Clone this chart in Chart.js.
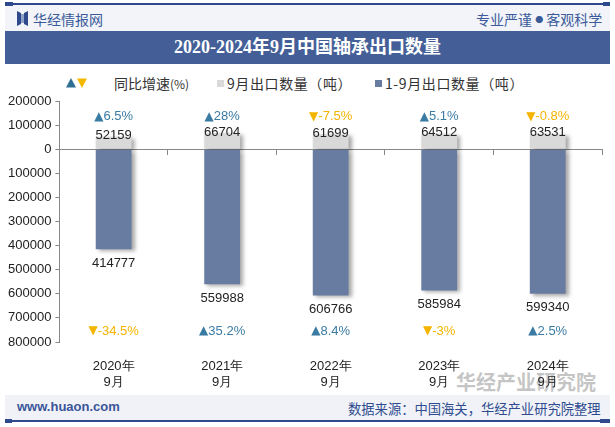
<!DOCTYPE html>
<html>
<head>
<meta charset="utf-8">
<script src="https://cdn.jsdelivr.net/npm/chart.js@4.4.1/dist/chart.umd.min.js"></script>
<style>
  body { margin: 0; background: #fff; font-family: Arial, "Liberation Sans", "Noto Sans CJK SC", sans-serif; }
  #wrap { position: relative; width: 615px; height: 427px; overflow: hidden; }
  #chartBox { position: absolute; left: 0; top: 0; width: 615px; height: 427px; }
  .abs { position: absolute; white-space: nowrap; }
  #topLine { left: 5px; top: 3px; width: 605px; height: 2px; background: #2f4a8c; }
  #header { left: 5px; top: 5px; width: 605px; height: 26px; background: #f2f4f9; }
  #title { left: 5px; top: 31px; width: 605px; height: 33px; background: #445f98; color: #fff;
           font: bold 18px "Liberation Serif", "Noto Sans CJK SC", serif; text-align: center; line-height: 33px; }
  #footer { left: 5px; top: 395px; width: 605px; height: 25px; background: #f0f2f8; }
  #botLine { left: 5px; top: 420px; width: 605px; height: 2px; background: #2f4a8c; }
  .cn { font-family: "Noto Sans CJK SC", sans-serif; text-spacing-trim: space-all; }
</style>
</head>
<body>
<div id="wrap">
  <div class="abs" id="header"></div>
  <div class="abs" id="topLine"></div>
  <div class="abs" style="left:5px;top:2px;width:8px;height:4px;background:#2f4a8c"></div>
  <div class="abs" style="left:603px;top:2px;width:7px;height:4px;background:#2f4a8c"></div>
  <svg class="abs" style="left:17px;top:11px" width="11" height="15">
    <polygon points="0,0 4,2 4,13 0,15" fill="#2f4a8c"/>
    <polygon points="11,0 7,2 7,13 11,15" fill="#2f4a8c"/>
    <rect x="4" y="3" width="3" height="9" fill="#8fa3c9"/>
  </svg>
  <div class="abs cn" style="left:33px;top:9px;font-size:14px;color:#3a5a9a">华经情报网</div>
  <div class="abs cn" style="left:476px;top:9px;font-size:14px;color:#3a5a9a">专业严谨 <span style="font-size:8px;vertical-align:2px">●</span> 客观科学</div>
  <div class="abs" id="title">2020-2024年9月中国轴承出口数量</div>

  <svg class="abs" style="left:66px;top:78px" width="22" height="10">
    <polygon points="0,9.5 5,0 10,9.5" fill="#2f6f93"/>
    <polygon points="11,0.5 21,0.5 16,10" fill="#f5b800"/>
  </svg>
  <div class="abs cn" style="left:114px;top:73px;font-size:14px;color:#333">同比增速<span style="font-size:12px">(%)</span></div>
  <div class="abs" style="left:217px;top:80px;width:7px;height:7px;background:#d9d9d9"></div>
  <div class="abs cn" style="left:227px;top:73px;font-size:14px;color:#333;letter-spacing:0.6px">9月出口数量（吨）</div>
  <div class="abs" style="left:375px;top:80px;width:7px;height:7px;background:#687ba1"></div>
  <div class="abs cn" style="left:385px;top:73px;font-size:14px;color:#333;letter-spacing:0.6px">1-9月出口数量（吨）</div>

  <div class="abs cn" style="left:456px;top:367px;font-size:20px;font-weight:bold;color:rgba(140,140,140,0.5)">华经产业研究院</div>
  <div id="chartBox"><canvas id="myChart"></canvas></div>

  <div class="abs" id="footer"></div>
  <div class="abs" id="botLine"></div>
  <div class="abs" style="left:5px;top:419px;width:7px;height:4px;background:#2f4a8c"></div>
  <div class="abs" style="left:600px;top:419px;width:10px;height:4px;background:#2f4a8c"></div>
  <div class="abs" style="left:17px;top:399px;font:bold 13px Arial, sans-serif;color:#3b5598">www.huaon.com</div>
  <div class="abs cn" style="left:348px;top:399px;font-size:13.3px;color:#2f4c8f">数据来源：中国海关，华经产业研究院整理</div>
</div>

<script>
const categorias = [['2020年', '9月'], ['2021年', '9月'], ['2022年', '9月'], ['2023年', '9月'], ['2024年', '9月']];
const exportSep = [52159, 66704, 61699, 64512, 63531];          // 9月出口数量（吨）
const exportAcum = [414777, 559988, 606766, 585984, 599340];    // 1-9月出口数量（吨）
const crecSep = [6.5, 28, -7.5, 5.1, -0.8];                     // 9月同比增速
const crecAcum = [-34.5, 35.2, 8.4, -3, 2.5];                   // 1-9月同比增速
const ticksY = [200000, 100000, 0, -100000, -200000, -300000, -400000, -500000, -600000, -700000, -800000];

const colorGris = '#d9d9d9';
const colorAzul = '#687ba1';
const colorSube = '#3a7ba3';
const colorBaja = '#f5b400';

// sombra de las barras
const sombraPlugin = {
    id: 'sombra',
    beforeDatasetsDraw(chart) {
        const ctx = chart.ctx;
        ctx.save();
        ctx.shadowColor = 'rgba(0,0,0,0.35)';
        ctx.shadowBlur = 4;
        ctx.shadowOffsetX = 3;
        ctx.shadowOffsetY = 2;
    },
    afterDatasetsDraw(chart) {
        chart.ctx.restore();
    }
};

// texto con triangulo + porcentaje, centrado
function dibujarPorcentaje(ctx, valor, x, y) {
    const tri = valor >= 0 ? '▲' : '▼';
    const txt = valor + '%';
    ctx.font = '12px "DejaVu Sans", sans-serif';
    const wTri = ctx.measureText(tri).width;
    ctx.font = '13px Arial, "Liberation Sans", sans-serif';
    const wTxt = ctx.measureText(txt).width;
    const x0 = x - (wTri + wTxt) / 2;
    ctx.fillStyle = valor >= 0 ? colorSube : colorBaja;
    ctx.textAlign = 'left';
    ctx.font = '12px "DejaVu Sans", sans-serif';
    ctx.fillText(tri, x0, y);
    ctx.font = '13px Arial, "Liberation Sans", sans-serif';
    ctx.fillText(txt, x0 + wTri, y);
}

// etiquetas de valores y porcentajes
const etiquetasPlugin = {
    id: 'etiquetas',
    afterDatasetsDraw(chart) {
        const ctx = chart.ctx;
        const y = chart.scales.y;
        const metaGris = chart.getDatasetMeta(0);
        const metaAzul = chart.getDatasetMeta(1);
        ctx.save();
        ctx.textBaseline = 'middle';
        metaGris.data.forEach((bar, i) => {
            ctx.font = '13px Arial, "Liberation Sans", sans-serif';
            ctx.textAlign = 'center';
            ctx.fillStyle = '#222';
            ctx.fillText(exportSep[i], bar.x, bar.y - 1);
            const barA = metaAzul.data[i];
            ctx.fillText(exportAcum[i], barA.x, barA.y + 14);

            dibujarPorcentaje(ctx, crecSep[i], bar.x, y.getPixelForValue(136000));
            dibujarPorcentaje(ctx, crecAcum[i], bar.x, y.getPixelForValue(-754000));
        });
        ctx.restore();
    }
};

const config = {
    type: 'bar',
    data: {
        labels: categorias,
        datasets: [{
            label: '9月出口数量（吨）',
            data: exportSep,
            backgroundColor: colorGris,
            grouped: false,
            order: 2
        }, {
            label: '1-9月出口数量（吨）',
            data: exportAcum.map(v => -v),
            backgroundColor: colorAzul,
            grouped: false,
            order: 1
        }]
    },
    options: {
        responsive: true,
        maintainAspectRatio: false,
        animation: false,
        datasets: { bar: { categoryPercentage: 1, barPercentage: 0.33 } },
        layout: { padding: { top: 101, left: 4, right: 13, bottom: 29 } },
        plugins: { legend: { display: false }, tooltip: { enabled: false } },
        scales: {
            x: {
                grid: { display: false },
                border: { display: false },
                ticks: { padding: 8, color: '#222', font: { size: 13, lineHeight: 1.23 } }
            },
            x0: {
                type: 'category',
                position: { y: 0 },
                grid: { drawOnChartArea: false, drawTicks: true, tickLength: 5, offset: true, color: '#888' },
                border: { display: true, color: '#888' },
                ticks: { display: false }
            },
            y: {
                min: -800000,
                max: 200000,
                afterBuildTicks(scale) { scale.ticks = ticksY.map(v => ({ value: v })); },
                grid: { drawOnChartArea: false, drawTicks: true, tickLength: 4, color: '#888' },
                border: { color: '#888' },
                ticks: {
                    padding: 4,
                    color: '#222',
                    font: { size: 13 },
                    callback: v => Math.abs(v)
                }
            }
        }
    },
    plugins: [sombraPlugin, etiquetasPlugin]
};

new Chart(document.getElementById('myChart'), config);
</script>
</body>
</html>
